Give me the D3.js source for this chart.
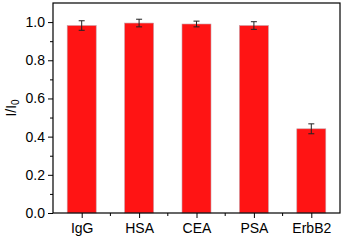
<!DOCTYPE html>
<html>
<head>
<meta charset="utf-8">
<script src="https://cdn.jsdelivr.net/npm/d3@7"></script>
<style>
  body { margin: 0; background: #fff; }
  text { font-family: "Liberation Sans", Arial, sans-serif; }
</style>
</head>
<body>
<svg id="chart"></svg>
<script>
var categories = ["IgG", "HSA", "CEA", "PSA", "ErbB2"];
var values = [0.982, 0.995, 0.99, 0.982, 0.441];
var errors = [0.025, 0.02, 0.015, 0.02, 0.026];
var yTicks = [0.0, 0.2, 0.4, 0.6, 0.8, 1.0];

var width = 343, height = 241,
    margin = {left: 53, right: 3, top: 3, bottom: 28};

var svg = d3.select("#chart")
    .attr("width", width)
    .attr("height", height);

var x = d3.scalePoint()
    .domain(categories)
    .range([margin.left, width - margin.right])
    .padding(0.5);

var y = d3.scaleLinear()
    .domain([0, 1.1])
    .range([height - margin.bottom, margin.top]);

var barW = 29;
var step = x.step();

// bars
svg.append("g").selectAll("rect")
  .data(categories)
  .enter().append("rect")
    .attr("x", function(d) { return x(d) - barW / 2; })
    .attr("y", function(d, i) { return y(values[i]); })
    .attr("width", barW)
    .attr("height", function(d, i) { return y(0) - y(values[i]); })
    .attr("fill", "#ff1414")
    .attr("stroke", "#c8a0a8")
    .attr("stroke-width", 0.6);

// error bars
var eb = svg.append("g").attr("stroke", "#222").attr("stroke-width", 1);
categories.forEach(function(c, i) {
  var cx = x(c), hi = y(values[i] + errors[i]), lo = y(values[i] - errors[i]);
  eb.append("line").attr("x1", cx).attr("x2", cx).attr("y1", hi).attr("y2", lo);
  eb.append("line").attr("x1", cx - 3).attr("x2", cx + 3).attr("y1", hi).attr("y2", hi);
  eb.append("line").attr("x1", cx - 3).attr("x2", cx + 3).attr("y1", lo).attr("y2", lo);
});

// frame
svg.append("rect")
    .attr("x", margin.left)
    .attr("y", margin.top)
    .attr("width", width - margin.left - margin.right)
    .attr("height", height - margin.top - margin.bottom)
    .attr("fill", "none")
    .attr("stroke", "#000")
    .attr("stroke-width", 1.2);

// y axis
var yAxis = svg.append("g")
    .attr("transform", "translate(" + margin.left + ",0)")
    .call(d3.axisLeft(y).tickValues(yTicks).tickFormat(d3.format(".1f")).tickSize(5).tickPadding(3));
yAxis.select(".domain").remove();
yAxis.selectAll("text").style("font-size", "14px").attr("fill", "#000");

svg.append("g")
    .attr("transform", "translate(" + margin.left + ",0)")
    .call(d3.axisLeft(y).tickValues([0.1, 0.3, 0.5, 0.7, 0.9]).tickFormat("").tickSize(3))
    .select(".domain").remove();

// x axis
var xAxis = svg.append("g")
    .attr("transform", "translate(0," + y(0) + ")")
    .call(d3.axisBottom(x).tickSize(5).tickPadding(5));
xAxis.select(".domain").remove();
xAxis.selectAll("text").style("font-size", "14px").attr("fill", "#000");

var minor = categories.slice(0, -1).map(function(c) { return x(c) + step / 2; });
minor.forEach(function(mx) {
  svg.append("line")
    .attr("x1", mx).attr("x2", mx)
    .attr("y1", y(0)).attr("y2", y(0) + 3)
    .attr("stroke", "#000");
});

// y label
var lab = svg.append("text")
    .attr("transform", "translate(16," + ((margin.top + y(0)) / 2) + ") rotate(-90)")
    .attr("text-anchor", "middle")
    .style("font-size", "14px");
lab.append("tspan").text("I/I");
lab.append("tspan").attr("dy", 3).style("font-size", "10px").text("0");
</script>
</body>
</html>
